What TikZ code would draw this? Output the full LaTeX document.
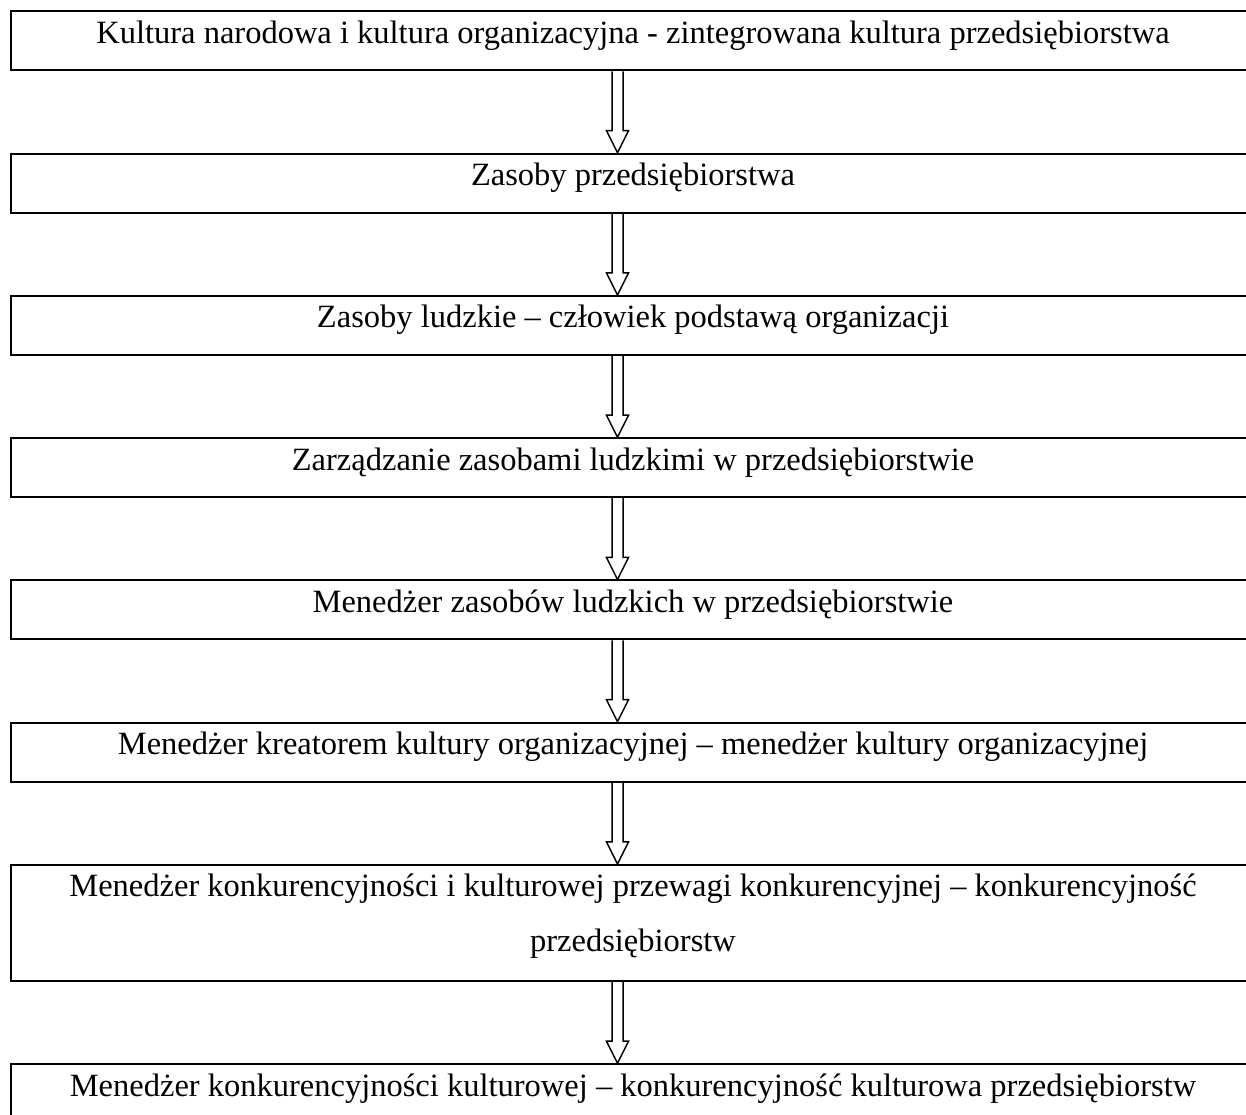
\documentclass[tikz,border=0pt]{standalone}
\usepackage{fontspec}
\setmainfont{Liberation Serif}
\usetikzlibrary{positioning,calc}

\begin{document}
\begin{tikzpicture}[
    box/.style={rectangle, draw=black, line width=0.8pt, minimum width=497.6pt, minimum height=23.6pt, text height=9.5pt, text depth=7.5pt, inner sep=0pt, align=center, font=\fontsize{13}{15.6}\selectfont},
    tallbox/.style={box, minimum height=46.4pt, text height=31.5pt, text depth=8.3pt},
    hollow/.style={draw=black, line width=0.6pt, line join=miter},
    node distance=32.5pt
]
\useasboundingbox (0,0) rectangle (498.4pt,-446pt);
\clip (0,0) rectangle (498.4pt,-446pt);

\node[box] (kultura) at (253.2pt,-16.4pt) {Kultura narodowa i kultura organizacyjna - zintegrowana kultura przedsiębiorstwa};
\node[box, below=of kultura] (zasoby) {Zasoby przedsiębiorstwa};
\node[box, below=of zasoby] (ludzie) {Zasoby ludzkie -- człowiek podstawą organizacji};
\node[box, below=of ludzie] (zarzadzanie) {Zarządzanie zasobami ludzkimi w przedsiębiorstwie};
\node[box, below=of zarzadzanie] (menedzer) {Menedżer zasobów ludzkich w przedsiębiorstwie};
\node[box, below=of menedzer] (kreator) {Menedżer kreatorem kultury organizacyjnej -- menedżer kultury organizacyjnej};
\node[tallbox, below=of kreator] (przewaga) {Menedżer konkurencyjności i kulturowej przewagi konkurencyjnej -- konkurencyjność\\[6.4pt]przedsiębiorstw};
\node[box, below=of przewaga] (kulturowa) {Menedżer konkurencyjności kulturowej -- konkurencyjność kulturowa przedsiębiorstw};

% hollow block arrows
\foreach \a/\b in {kultura/zasoby, zasoby/ludzie, ludzie/zarzadzanie, zarzadzanie/menedzer,
                   menedzer/kreator, kreator/przewaga, przewaga/kulturowa}
  \draw[hollow] let \p1=(\a.south), \p2=(\b.north) in
    (\x1-8.4pt,\y1) -- (\x1-8.4pt,\y2+8.8pt) -- (\x1-10.6pt,\y2+8.8pt) -- (\x1-6.2pt,\y2)
    -- (\x1-1.8pt,\y2+8.8pt) -- (\x1-4pt,\y2+8.8pt) -- (\x1-4pt,\y1);

\end{tikzpicture}
\end{document}
